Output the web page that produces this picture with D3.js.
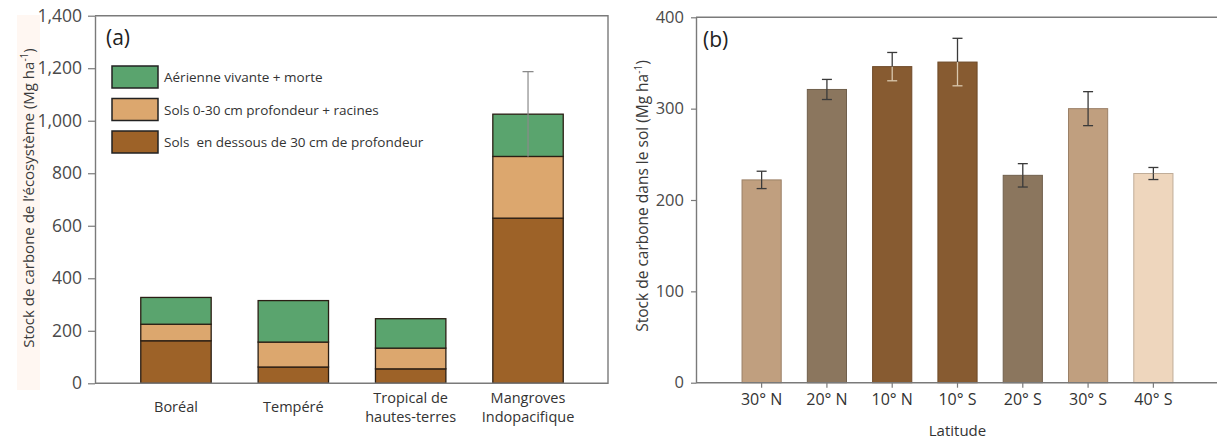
<!DOCTYPE html>
<html>
<head>
<meta charset="utf-8">
<script src="https://cdn.jsdelivr.net/npm/d3@7"></script>
<style>
  html, body { margin: 0; padding: 0; background: #fff; }
  svg { display: block; font-family: "Open Sans", "Noto Sans", sans-serif; }
</style>
</head>
<body>
<svg id="chart" width="1217" height="439"></svg>
<script>
// ---- Panel (a): ecosystem carbon stock by forest type ----
const habitats = ["Boréal", "Tempéré", "Tropical de hautes-terres", "Mangroves Indopacifique"];
const habitatLabelLines = [["Boréal"], ["Tempéré"], ["Tropical de", "hautes-terres"], ["Mangroves", "Indopacifique"]];
const soilDeep = [162, 62, 55, 629];      // sols en dessous de 30 cm
const soilTop = [63, 95, 79, 235];        // sols 0-30 cm + racines
const aboveGround = [102, 158, 112, 161]; // aérienne vivante + morte
const totalError = [null, null, null, 162];
const stockTicks = [0, 200, 400, 600, 800, 1000, 1200, 1400];
const legendLabels = ["Aérienne vivante + morte", "Sols 0-30 cm profondeur + racines", "Sols\u00a0 en dessous de 30 cm de profondeur"];

// ---- Panel (b): soil carbon stock by latitude ----
const latitudes = ["30° N", "20° N", "10° N", "10° S", "20° S", "30° S", "40° S"];
const soilCarbon = [222, 321, 346, 351, 227, 300, 229];
const soilCarbonErr = [9.5, 11, 15.5, 26, 12.8, 18.6, 6.6];
const soilTicks = [0, 100, 200, 300, 400];

const svg = d3.select("#chart");
const frameColor = "#7a7a7a";
const tickTextColor = "#4a4a4a";

// ================= Panel (a) =================
const ax0 = 95, ax1 = 608;
const ya = d3.scaleLinear().domain([0, 1400]).range([383.3, 15.7]);
const xa = d3.scaleBand().domain(habitats).range([ax0, 609]).paddingInner(0.4).paddingOuter(0.39);

// faint band behind the y title
svg.append("rect").attr("x", 17).attr("y", 15).attr("width", 23).attr("height", 375).attr("fill", "#fff7f2");

const ga = svg.append("g");
const segColors = { deep: "#9d6228", top: "#dca76e", above: "#5aa46e" };

const stacks = habitats.map((h, i) => {
  const b0 = 0, b1 = soilDeep[i], b2 = b1 + soilTop[i], b3 = b2 + aboveGround[i];
  return { h, i, segs: [
    { key: "deep", y0: b0, y1: b1 },
    { key: "top", y0: b1, y1: b2 },
    { key: "above", y0: b2, y1: b3 }
  ], total: b3 };
});

const bars = ga.selectAll("g.stack").data(stacks).join("g").attr("class", "stack");
bars.selectAll("rect").data(d => d.segs.map(s => ({ ...s, h: d.h }))).join("rect")
  .attr("x", d => xa(d.h))
  .attr("width", xa.bandwidth())
  .attr("y", d => ya(d.y1))
  .attr("height", d => ya(d.y0) - ya(d.y1))
  .attr("fill", d => segColors[d.key])
  .attr("stroke", "#2a1e14")
  .attr("stroke-width", 1.3);

// error bar on the total (Mangroves)
stacks.forEach((d, i) => {
  if (totalError[i] == null) return;
  const cx = xa(d.h) + xa.bandwidth() / 2;
  ga.append("line").attr("x1", cx).attr("x2", cx)
    .attr("y1", ya(d.total - totalError[i])).attr("y2", ya(d.total + totalError[i]))
    .attr("stroke", "#8a8a8a").attr("stroke-width", 1.2);
  ga.append("line").attr("x1", cx - 5.5).attr("x2", cx + 5.5)
    .attr("y1", ya(d.total + totalError[i])).attr("y2", ya(d.total + totalError[i]))
    .attr("stroke", "#8a8a8a").attr("stroke-width", 1.3);
});

// frame
ga.append("path")
  .attr("d", `M${ax0},${ya(1400)}H${ax1}V${ya(0)}H${ax0}`)
  .attr("fill", "none").attr("stroke", frameColor).attr("stroke-width", 1.4);

const yAxisA = ga.append("g").attr("transform", `translate(${ax0},0)`)
  .call(d3.axisLeft(ya).tickValues(stockTicks).tickFormat(d3.format(",")).tickSize(7).tickSizeOuter(0).tickPadding(6));
yAxisA.select(".domain").attr("stroke", frameColor).attr("stroke-width", 1.4);
yAxisA.selectAll(".tick line").attr("stroke", frameColor).attr("stroke-width", 1.2);
yAxisA.selectAll(".tick text").attr("fill", tickTextColor).attr("font-size", 17.5)
  .attr("font-family", "'Open Sans', sans-serif");

// category labels
const xl = ga.selectAll("text.cat").data(habitats).join("text").attr("class", "cat")
  .attr("text-anchor", "middle").attr("fill", "#333").attr("font-size", 14.5)
  .attr("x", d => xa(d) + xa.bandwidth() / 2);
xl.each(function (d, i) {
  const lines = habitatLabelLines[i];
  const base = lines.length === 1 ? 412 : 403;
  d3.select(this).selectAll("tspan").data(lines).join("tspan")
    .attr("x", xa(d) + xa.bandwidth() / 2)
    .attr("y", (l, k) => base + k * 19)
    .text(l => l);
});

// y title
const ta = ga.append("text").attr("transform", `translate(34,198) rotate(-90)`)
  .attr("text-anchor", "middle").attr("fill", "#3a3a3a").attr("font-size", 15);
ta.append("tspan").text("Stock de carbone de l’écosystème (Mg ha");
ta.append("tspan").attr("dy", -6).attr("font-size", 10).text("-1");
ta.append("tspan").attr("dy", 6).text(")");

// panel tag
ga.append("text").attr("x", 106).attr("y", 45).attr("font-size", 21).attr("fill", "#222").text("(a)");

// legend
const legendKeys = ["above", "top", "deep"];
const lg = ga.append("g");
legendLabels.forEach((t, i) => {
  const y = 66 + i * 32.5;
  lg.append("rect").attr("x", 112).attr("y", y).attr("width", 46).attr("height", 22)
    .attr("fill", segColors[legendKeys[i]]).attr("stroke", "#222").attr("stroke-width", 1.5);
  lg.append("text").attr("x", 164).attr("y", y + 16).attr("font-size", 13.5).attr("fill", "#333")
    .style("white-space", "pre").text(t);
});

// ================= Panel (b) =================
const bx0 = 696, bx1 = 1217;
const yb = d3.scaleLinear().domain([0, 400]).range([382.7, 17.3]);
const xb = d3.scaleBand().domain(latitudes).range([bx0, 1219]).paddingInner(0.4).paddingOuter(0.705);
const latColor = d3.scaleOrdinal().domain(latitudes)
  .range(["#c09f7f", "#8b765e", "#875b31", "#875b31", "#8b765e", "#c09f7f", "#eed6bd"]);

const gb = svg.append("g");

gb.selectAll("rect.lat").data(latitudes).join("rect").attr("class", "lat")
  .attr("x", d => xb(d)).attr("width", xb.bandwidth())
  .attr("y", (d, i) => yb(soilCarbon[i]))
  .attr("height", (d, i) => yb(0) - yb(soilCarbon[i]))
  .attr("fill", d => latColor(d))
  .attr("stroke", d => d3.color(latColor(d)).darker(0.6))
  .attr("stroke-width", 1);

// error bars
latitudes.forEach((d, i) => {
  const cx = xb(d) + xb.bandwidth() / 2;
  const v = soilCarbon[i], e = soilCarbonErr[i];
  const dark = d3.hsl(latColor(d)).l < 0.4;
  const inner = dark ? "#d9c7ad" : "#3a3a3a";
  const outer = "#3a3a3a";
  const g = gb.append("g").attr("stroke-width", 1.3);
  g.append("line").attr("x1", cx).attr("x2", cx).attr("y1", yb(v)).attr("y2", yb(v + e)).attr("stroke", outer);
  g.append("line").attr("x1", cx - 5).attr("x2", cx + 5).attr("y1", yb(v + e)).attr("y2", yb(v + e)).attr("stroke", outer);
  g.append("line").attr("x1", cx).attr("x2", cx).attr("y1", yb(v)).attr("y2", yb(v - e)).attr("stroke", inner);
  g.append("line").attr("x1", cx - 5).attr("x2", cx + 5).attr("y1", yb(v - e)).attr("y2", yb(v - e)).attr("stroke", inner);
});

// top border
gb.append("line").attr("x1", bx0).attr("x2", bx1).attr("y1", yb(400)).attr("y2", yb(400))
  .attr("stroke", frameColor).attr("stroke-width", 1.4);

const yAxisB = gb.append("g").attr("transform", `translate(${bx0},0)`)
  .call(d3.axisLeft(yb).tickValues(soilTicks).tickSize(5).tickSizeOuter(0).tickPadding(7));
yAxisB.select(".domain").attr("stroke", frameColor).attr("stroke-width", 1.4);
yAxisB.selectAll(".tick line").attr("stroke", frameColor).attr("stroke-width", 1.2);
yAxisB.selectAll(".tick text").attr("fill", tickTextColor).attr("font-size", 16.5)
  .attr("font-family", "'Open Sans', sans-serif");

const xAxisB = gb.append("g").attr("transform", `translate(0,${yb(0)})`)
  .call(d3.axisBottom(xb).tickSize(5).tickSizeOuter(0).tickPadding(6));
xAxisB.select(".domain").attr("d", `M${bx0},0H${bx1}`).attr("stroke", frameColor).attr("stroke-width", 1.4);
xAxisB.selectAll(".tick line").attr("stroke", frameColor).attr("stroke-width", 1.2);
xAxisB.selectAll(".tick text").attr("fill", "#333").attr("font-size", 16)
  .attr("font-family", "'Open Sans', sans-serif");

gb.append("text").attr("x", (xb(latitudes[0]) + xb(latitudes[6]) + xb.bandwidth()) / 2).attr("y", 436)
  .attr("text-anchor", "middle").attr("font-size", 15).attr("fill", "#333").text("Latitude");

const tb = gb.append("text").attr("transform", `translate(648,196) rotate(-90)`)
  .attr("text-anchor", "middle").attr("fill", "#3a3a3a").attr("font-size", 15.5);
tb.append("tspan").text("Stock de carbone dans le sol (Mg ha");
tb.append("tspan").attr("dy", -6).attr("font-size", 10).text("-1");
tb.append("tspan").attr("dy", 6).text(")");

gb.append("text").attr("x", 703).attr("y", 47).attr("font-size", 21).attr("fill", "#222").text("(b)");
</script>
</body>
</html>
